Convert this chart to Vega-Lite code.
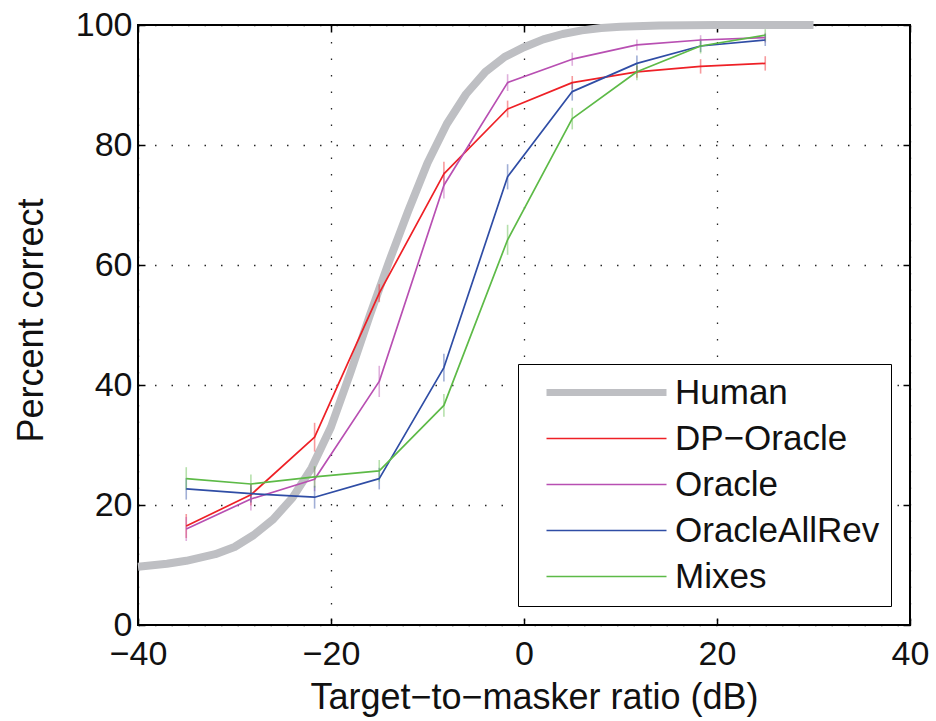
{
  "$schema": "https://vega.github.io/schema/vega-lite/v6.json",
  "width": 772,
  "height": 600,
  "autosize": {"type": "none"},
  "padding": {"left": 138, "top": 25, "right": 26, "bottom": 96},
  "background": "#ffffff",
  "datasets": {
    "human": [
      {"series": "Human", "tmr": -40, "pc": 9.7},
      {"series": "Human", "tmr": -37, "pc": 10.2},
      {"series": "Human", "tmr": -35, "pc": 10.7},
      {"series": "Human", "tmr": -32, "pc": 11.8},
      {"series": "Human", "tmr": -30, "pc": 13.0},
      {"series": "Human", "tmr": -28, "pc": 15.0},
      {"series": "Human", "tmr": -26, "pc": 17.6},
      {"series": "Human", "tmr": -24, "pc": 21.2},
      {"series": "Human", "tmr": -22, "pc": 26.2},
      {"series": "Human", "tmr": -20, "pc": 33.0},
      {"series": "Human", "tmr": -18, "pc": 42.0},
      {"series": "Human", "tmr": -16, "pc": 51.5},
      {"series": "Human", "tmr": -14, "pc": 60.5},
      {"series": "Human", "tmr": -12, "pc": 69.0},
      {"series": "Human", "tmr": -10, "pc": 77.0},
      {"series": "Human", "tmr": -8, "pc": 83.5},
      {"series": "Human", "tmr": -6, "pc": 88.5},
      {"series": "Human", "tmr": -4, "pc": 92.2},
      {"series": "Human", "tmr": -2, "pc": 94.7},
      {"series": "Human", "tmr": 0, "pc": 96.3},
      {"series": "Human", "tmr": 2, "pc": 97.6},
      {"series": "Human", "tmr": 4, "pc": 98.5},
      {"series": "Human", "tmr": 6, "pc": 99.1},
      {"series": "Human", "tmr": 8, "pc": 99.5},
      {"series": "Human", "tmr": 10, "pc": 99.7},
      {"series": "Human", "tmr": 14, "pc": 99.9},
      {"series": "Human", "tmr": 20, "pc": 100},
      {"series": "Human", "tmr": 25, "pc": 100},
      {"series": "Human", "tmr": 30, "pc": 100}
    ],
    "models": [
      {"series": "DP−Oracle", "tmr": -35, "pc": 16.5, "err": 2.0},
      {"series": "DP−Oracle", "tmr": -28.3, "pc": 21.7, "err": 1.8},
      {"series": "DP−Oracle", "tmr": -21.7, "pc": 31.3, "err": 2.4},
      {"series": "DP−Oracle", "tmr": -15, "pc": 55.3, "err": 1.5},
      {"series": "DP−Oracle", "tmr": -8.3, "pc": 75.2, "err": 2.0},
      {"series": "DP−Oracle", "tmr": -1.7, "pc": 86.0, "err": 1.4},
      {"series": "DP−Oracle", "tmr": 5, "pc": 90.4, "err": 1.1},
      {"series": "DP−Oracle", "tmr": 11.7, "pc": 92.2, "err": 1.0},
      {"series": "DP−Oracle", "tmr": 18.3, "pc": 93.1, "err": 1.2},
      {"series": "DP−Oracle", "tmr": 25, "pc": 93.6, "err": 1.2},
      {"series": "Oracle", "tmr": -35, "pc": 16.0, "err": 2.0},
      {"series": "Oracle", "tmr": -28.3, "pc": 21.0, "err": 1.9},
      {"series": "Oracle", "tmr": -21.7, "pc": 24.3, "err": 2.0},
      {"series": "Oracle", "tmr": -15, "pc": 40.6, "err": 2.6},
      {"series": "Oracle", "tmr": -8.3, "pc": 73.3, "err": 2.2},
      {"series": "Oracle", "tmr": -1.7, "pc": 90.4, "err": 1.4},
      {"series": "Oracle", "tmr": 5, "pc": 94.3, "err": 1.1},
      {"series": "Oracle", "tmr": 11.7, "pc": 96.7, "err": 0.9},
      {"series": "Oracle", "tmr": 18.3, "pc": 97.5, "err": 0.8},
      {"series": "Oracle", "tmr": 25, "pc": 97.9, "err": 0.8},
      {"series": "OracleAllRev", "tmr": -35, "pc": 22.7, "err": 1.8},
      {"series": "OracleAllRev", "tmr": -28.3, "pc": 21.9, "err": 1.5},
      {"series": "OracleAllRev", "tmr": -21.7, "pc": 21.3, "err": 1.9},
      {"series": "OracleAllRev", "tmr": -15, "pc": 24.4, "err": 1.8},
      {"series": "OracleAllRev", "tmr": -8.3, "pc": 42.9, "err": 2.3},
      {"series": "OracleAllRev", "tmr": -1.7, "pc": 74.7, "err": 2.1},
      {"series": "OracleAllRev", "tmr": 5, "pc": 88.9, "err": 1.5},
      {"series": "OracleAllRev", "tmr": 11.7, "pc": 93.6, "err": 1.3},
      {"series": "OracleAllRev", "tmr": 18.3, "pc": 96.5, "err": 1.0},
      {"series": "OracleAllRev", "tmr": 25, "pc": 97.5, "err": 1.0},
      {"series": "Mixes", "tmr": -35, "pc": 24.4, "err": 1.9},
      {"series": "Mixes", "tmr": -28.3, "pc": 23.5, "err": 1.6},
      {"series": "Mixes", "tmr": -21.7, "pc": 24.7, "err": 1.8},
      {"series": "Mixes", "tmr": -15, "pc": 25.7, "err": 1.8},
      {"series": "Mixes", "tmr": -8.3, "pc": 36.6, "err": 1.9},
      {"series": "Mixes", "tmr": -1.7, "pc": 64.2, "err": 2.5},
      {"series": "Mixes", "tmr": 5, "pc": 84.4, "err": 1.8},
      {"series": "Mixes", "tmr": 11.7, "pc": 92.2, "err": 1.4},
      {"series": "Mixes", "tmr": 18.3, "pc": 96.5, "err": 1.25},
      {"series": "Mixes", "tmr": 25, "pc": 98.3, "err": 1.0}
    ]
  },
  "layer": [
    {
      "data": {"name": "human"},
      "mark": {"type": "line", "strokeWidth": 8, "strokeCap": "butt", "strokeJoin": "round"},
      "encoding": {
        "x": {
          "field": "tmr", "type": "quantitative",
          "scale": {"domain": [-40, 40], "nice": false, "zero": false},
          "axis": {
            "orient": "bottom",
            "values": [-40, -20, 0, 20, 40],
            "title": "Target−to−masker ratio (dB)",
            "titleX": 396, "titleY": 83,
            "titleBaseline": "alphabetic",
            "titleAnchor": null,
            "labelBaseline": "alphabetic",
            "labelPadding": 46
          }
        },
        "y": {
          "field": "pc", "type": "quantitative",
          "scale": {"domain": [0, 100], "nice": false},
          "axis": {
            "orient": "left",
            "values": [0, 20, 40, 60, 80, 100],
            "title": "Percent correct",
            "titleX": -96, "titleY": 295,
            "titleAngle": -90,
            "titleBaseline": "alphabetic",
            "titleAlign": "center",
            "titleAnchor": null,
            "labelPadding": 13
          }
        },
        "color": {
          "field": "series", "type": "nominal",
          "scale": {
            "domain": ["Human", "DP−Oracle", "Oracle", "OracleAllRev", "Mixes"],
            "range": ["#BEBFC3", "#EE2026", "#B84FB2", "#2F4DA5", "#5DBA47"]
          },
          "legend": {
            "title": null,
            "encode": {
              "symbols": {
                "update": {
                  "strokeWidth": {"signal": "datum.value === 'Human' ? 7 : 1.7"},
                  "opacity": {"value": 1}
                }
              }
            }
          }
        }
      }
    },
    {
      "data": {"name": "models"},
      "mark": {"type": "errorbar", "ticks": false, "rule": {"opacity": 0.45, "strokeWidth": 1.6}},
      "encoding": {
        "x": {"field": "tmr", "type": "quantitative", "axis": null},
        "y": {"field": "pc", "type": "quantitative", "axis": null},
        "yError": {"field": "err"},
        "color": {"field": "series", "type": "nominal"}
      }
    },
    {
      "data": {"name": "models"},
      "mark": {"type": "line", "strokeWidth": 1.7, "strokeJoin": "round"},
      "encoding": {
        "x": {"field": "tmr", "type": "quantitative", "axis": null},
        "y": {"field": "pc", "type": "quantitative", "axis": null},
        "color": {"field": "series", "type": "nominal"}
      }
    },
    {
      "data": {"name": "human"},
      "mark": {"type": "point", "opacity": 0},
      "encoding": {
        "x": {
          "field": "tmr", "type": "quantitative",
          "axis": {"orient": "top", "values": [-40, -20, 0, 20, 40], "labels": false, "grid": false, "title": null}
        },
        "y": {
          "field": "pc", "type": "quantitative",
          "axis": {"orient": "right", "values": [0, 20, 40, 60, 80, 100], "labels": false, "grid": false, "title": null}
        }
      }
    }
  ],
  "resolve": {"axis": {"x": "independent", "y": "independent"}},
  "config": {
    "font": "Liberation Sans",
    "view": {"stroke": "#000000", "strokeWidth": 2},
    "axis": {
      "domain": false,
      "ticks": true,
      "tickSize": -7,
      "tickColor": "#000000",
      "tickWidth": 1.5,
      "grid": true,
      "gridColor": "#000000",
      "gridDash": [1.5, 15],
      "gridWidth": 1.3,
      "gridOpacity": 0.85,
      "labelFont": "Liberation Sans",
      "labelFontSize": 34,
      "labelColor": "#111111",
      "labelFlush": false,
      "labelOverlap": false,
      "titleFont": "Liberation Sans",
      "titleFontSize": 36,
      "titleFontWeight": "normal",
      "titleColor": "#111111"
    },
    "legend": {
      "orient": "none",
      "legendX": 380,
      "legendY": 339,
      "direction": "vertical",
      "strokeColor": "#000000",
      "fillColor": "#ffffff",
      "padding": 11,
      "symbolType": "M0,0H10",
      "symbolSize": 576,
      "symbolOpacity": 1,
      "labelFont": "Liberation Sans",
      "labelFontSize": 35,
      "labelColor": "#111111",
      "labelOffset": 111,
      "labelLimit": 400,
      "rowPadding": 10
    }
  }
}
